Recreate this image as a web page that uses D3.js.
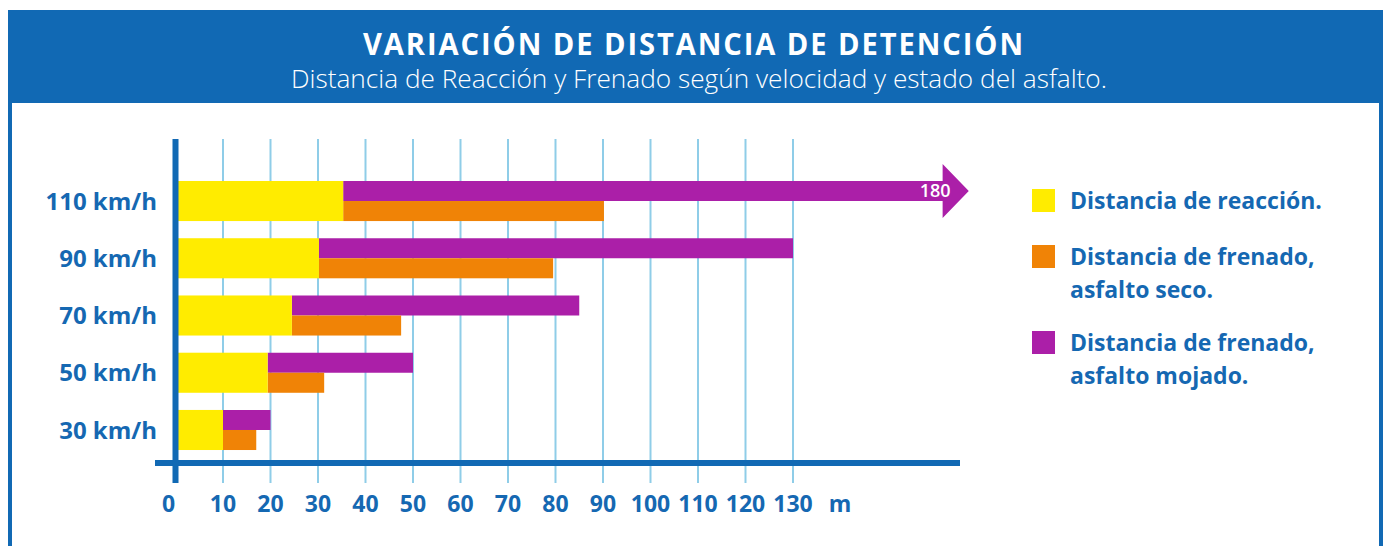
<!DOCTYPE html>
<html>
<head>
<meta charset="utf-8">
<script src="https://cdn.jsdelivr.net/npm/d3@7"></script>
<style>
  body { margin: 0; background: #ffffff; }
  svg { display: block; }
</style>
</head>
<body>
<div id="chart"></div>
<script>
// data
const speeds = ["110 km/h", "90 km/h", "70 km/h", "50 km/h", "30 km/h"];
const reaction = [35.3, 30.2, 24.5, 19.4, 10];
const dryTotal = [90.2, 79.5, 47.5, 31.3, 17];
const wetTotal = [180, 130, 85, 50, 20];
const xTicks = [0, 10, 20, 30, 40, 50, 60, 70, 80, 90, 100, 110, 120, 130];
const legendItems = [
    ["Distancia de reacción."],
    ["Distancia de frenado,", "asfalto seco."],
    ["Distancia de frenado,", "asfalto mojado."]
];
const titleText = "VARIACIÓN DE DISTANCIA DE DETENCIÓN";
const subtitleText = "Distancia de Reacción y Frenado según velocidad y estado del asfalto.";

const width = 1383;
const height = 546;
const blue = "#1169b4";
const textBlue = "#1568b2";
const colors = ["#ffec00", "#f08306", "#ab1fa8"];
const font = "'Open Sans', 'Noto Sans', sans-serif";

const svg = d3.select("#chart")
    .append("svg")
    .attr("width", width)
    .attr("height", height)
    .attr("viewBox", [0, 0, width, height]);

// header band + frame
svg.append("rect")
    .attr("x", 8).attr("y", 10)
    .attr("width", width - 8).attr("height", 93)
    .attr("fill", blue);
svg.append("rect")
    .attr("x", 8).attr("y", 100)
    .attr("width", 4).attr("height", height - 100)
    .attr("fill", blue);
svg.append("rect")
    .attr("x", width - 4).attr("y", 100)
    .attr("width", 4).attr("height", height - 100)
    .attr("fill", blue);

svg.append("text")
    .attr("x", 694).attr("y", 55)
    .attr("text-anchor", "middle")
    .attr("font-family", font)
    .attr("font-weight", 700)
    .attr("font-size", 30)
    .attr("fill", "white")
    .attr("letter-spacing", 2)
    .attr("textLength", 662)
    .attr("lengthAdjust", "spacingAndGlyphs")
    .text(titleText);

svg.append("text")
    .attr("x", 699).attr("y", 88)
    .attr("text-anchor", "middle")
    .attr("font-family", font)
    .attr("font-weight", 300)
    .attr("font-size", 26)
    .attr("fill", "white")
    .attr("textLength", 816)
    .attr("lengthAdjust", "spacingAndGlyphs")
    .text(subtitleText);

// scales
const x = d3.scaleLinear().domain([0, 130]).range([175.5, 793]);
const y = d3.scaleBand()
    .domain(speeds)
    .range([172.4, 458.6])
    .paddingInner(0.3)
    .paddingOuter(0.15);
const bh = y.bandwidth();
const axisY = 463;
const arrowTip = x(167);
const arrowBase = x(161.5);

// grid lines
svg.append("g")
    .selectAll("line")
    .data(xTicks.slice(1))
    .enter()
    .append("line")
    .attr("x1", d => x(d)).attr("x2", d => x(d))
    .attr("y1", 139).attr("y2", 483)
    .attr("stroke", "#8fcde8")
    .attr("stroke-width", 2);

const rows = speeds.map((s, i) => ({
    speed: s, reaction: reaction[i], dry: dryTotal[i], wet: wetTotal[i]
}));

const bars = svg.append("g")
    .selectAll("g")
    .data(rows)
    .enter()
    .append("g");

// wet braking (top half), with arrow if off the scale
bars.append("path")
    .attr("fill", colors[2])
    .attr("d", d => {
        const y0 = y(d.speed), y1 = y0 + bh / 2;
        if (d.wet <= x.domain()[1]) {
            return `M${x(d.reaction)},${y0}H${x(d.wet)}V${y1}H${x(d.reaction)}Z`;
        }
        const mid = (y0 + y1) / 2;
        return `M${x(d.reaction)},${y0}H${arrowBase}V${mid - 27}L${arrowTip},${mid}` +
               `L${arrowBase},${mid + 27}V${y1}H${x(d.reaction)}Z`;
    });

bars.filter(d => d.wet > x.domain()[1])
    .append("text")
    .attr("x", arrowBase + 8)
    .attr("y", d => y(d.speed) + bh / 4)
    .attr("dy", "0.36em")
    .attr("text-anchor", "end")
    .attr("font-family", font)
    .attr("font-weight", 600)
    .attr("font-size", 18)
    .attr("fill", "white")
    .text(d => d.wet);

// dry braking (bottom half)
bars.append("rect")
    .attr("x", d => x(d.reaction))
    .attr("y", d => y(d.speed) + bh / 2)
    .attr("width", d => x(d.dry) - x(d.reaction))
    .attr("height", bh / 2)
    .attr("fill", colors[1]);

// reaction
bars.append("rect")
    .attr("x", x(0))
    .attr("y", d => y(d.speed))
    .attr("width", d => x(d.reaction) - x(0))
    .attr("height", bh)
    .attr("fill", colors[0]);

// axes lines
svg.append("line")
    .attr("x1", 155).attr("x2", 960)
    .attr("y1", axisY).attr("y2", axisY)
    .attr("stroke", blue)
    .attr("stroke-width", 6);
svg.append("line")
    .attr("x1", x(0)).attr("x2", x(0))
    .attr("y1", 139).attr("y2", 483)
    .attr("stroke", blue)
    .attr("stroke-width", 6);

// category labels
svg.append("g")
    .selectAll("text")
    .data(speeds)
    .enter()
    .append("text")
    .attr("x", 157)
    .attr("y", d => y(d) + bh / 2)
    .attr("dy", "0.36em")
    .attr("text-anchor", "end")
    .attr("font-family", font)
    .attr("font-weight", 700)
    .attr("font-size", 24)
    .attr("fill", textBlue)
    .text(d => d);

// tick labels
svg.append("g")
    .selectAll("text")
    .data(xTicks)
    .enter()
    .append("text")
    .attr("x", d => d == 0 ? x(d) - 7 : x(d))
    .attr("y", 504)
    .attr("dy", "0.36em")
    .attr("text-anchor", "middle")
    .attr("font-family", font)
    .attr("font-weight", 700)
    .attr("font-size", 23)
    .attr("fill", textBlue)
    .text(d => d);

svg.append("text")
    .attr("x", 840)
    .attr("y", 504)
    .attr("dy", "0.36em")
    .attr("text-anchor", "middle")
    .attr("font-family", font)
    .attr("font-weight", 700)
    .attr("font-size", 23)
    .attr("fill", textBlue)
    .text("m");

// legend
const legendY = [189, 245, 331];
const legend = svg.append("g")
    .selectAll("g")
    .data(legendItems)
    .enter()
    .append("g")
    .attr("transform", (d, i) => `translate(1032,${legendY[i]})`);

legend.append("rect")
    .attr("width", 23).attr("height", 23)
    .attr("fill", (d, i) => colors[i]);

legend.append("text")
    .attr("x", 38)
    .attr("y", 20)
    .attr("font-family", font)
    .attr("font-weight", 700)
    .attr("font-size", 23)
    .attr("fill", textBlue)
    .selectAll("tspan")
    .data(d => d)
    .enter()
    .append("tspan")
    .attr("x", 38)
    .attr("dy", (d, i) => i == 0 ? 0 : 33)
    .text(d => d);
</script>
</body>
</html>
